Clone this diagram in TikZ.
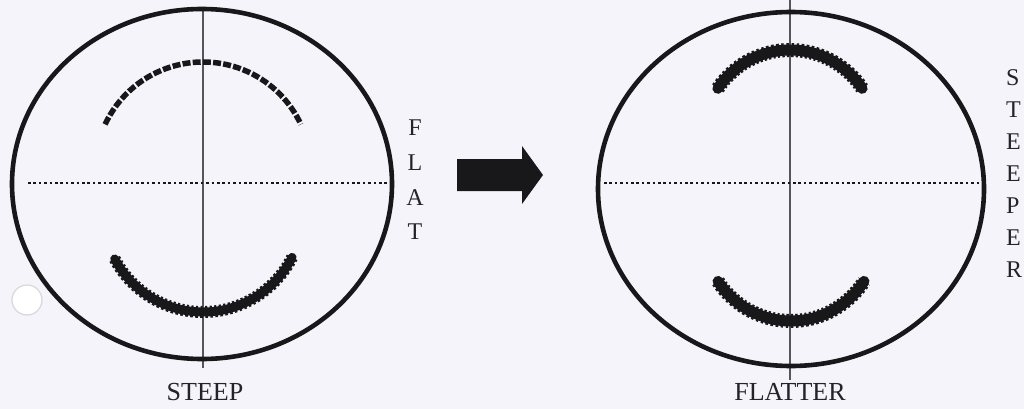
\documentclass[tikz,border=0pt]{standalone}
\usepackage{fontspec}
\setmainfont{Liberation Serif}
\definecolor{paper}{RGB}{244,244,250}
\definecolor{inkc}{RGB}{24,24,26}
\definecolor{axisc}{RGB}{85,85,90}
\definecolor{txtc}{RGB}{35,35,40}
\definecolor{holec}{RGB}{215,215,220}
\begin{document}
\begin{tikzpicture}[x=1pt,y=1pt,
  ink/.style={draw=inkc},
  rim/.style={ink,line width=4.6pt},
  axis/.style={draw=axisc,line width=1.1pt},
  dotline/.style={ink,line width=2.8pt,dash pattern=on 2.6pt off 2.8pt},
  dasharc/.style={ink,line width=5.5pt,dash pattern=on 8pt off 2.2pt},
  jag/.style={ink,line width=9pt,line cap=round},
  jagedge/.style={ink,line width=12pt,dash pattern=on 2.4pt off 2.4pt},
  lbl/.style={inner sep=0pt,text=txtc,font=\fontsize{26}{26}\selectfont},
  vl/.style={inner sep=0pt,text=txtc,font=\fontsize{24}{24}\selectfont}]
\fill[paper] (0,0) rectangle (1024,-409);
\useasboundingbox (0,0) rectangle (1024,-409);
% punch hole
\draw[draw=holec,line width=1.2pt,fill=white] (27,-300) circle (15);
% ---- left (steep) ----
\draw[axis] (203,-8) -- (203,-368);
\draw[rim] (202,-184) ellipse (190 and 175);
\draw[dotline] (28,-183) -- (392,-183);
\draw[dasharc] (203,-170) ++(155:108) arc (155:25:108);
\draw[jag] (203,-212) ++(208:100) arc (208:333:100);
\draw[jagedge] (203,-212) ++(208:100) arc (208:333:100);
% ---- right (flatter) ----
\draw[axis] (790,0) -- (790,-380);
\draw[rim] (791,-189) ellipse (193 and 177);
\draw[dotline] (604,-183) -- (985,-183);
\draw[jag,line width=11pt] (790,-137) ++(146:87) arc (146:34:87);
\draw[jagedge,line width=14pt] (790,-137) ++(146:87) arc (146:34:87);
\draw[jag,line width=11pt] (791,-234) ++(213:87) arc (213:327:87);
\draw[jagedge,line width=14pt] (791,-234) ++(213:87) arc (213:327:87);
% ---- arrow ----
\fill[inkc] (457,-159) -- (522,-159) -- (522,-146) -- (543,-175) -- (522,-204) -- (522,-191) -- (457,-191) -- cycle;
% ---- vertical words ----
\node[vl] (f1) at (415,-128) {F};
\node[vl] (f2) at (415,-163) {L};
\node[vl] (f3) at (415,-198) {A};
\node[vl] (f4) at (415,-232) {T};
\node[vl,anchor=west] (s1) at (1006,-78) {S};
\node[vl,anchor=west] (s2) at (1006,-110) {T};
\node[vl,anchor=west] (s3) at (1006,-142) {E};
\node[vl,anchor=west] (s4) at (1006,-174) {E};
\node[vl,anchor=west] (s5) at (1006,-206) {P};
\node[vl,anchor=west] (s6) at (1006,-238) {E};
\node[vl,anchor=west] (s7) at (1006,-270) {R};
% ---- captions ----
\node[lbl] (steep) at (205,-392) {STEEP};
\node[lbl] (flatter) at (790,-392) {FLATTER};
\end{tikzpicture}
\end{document}
